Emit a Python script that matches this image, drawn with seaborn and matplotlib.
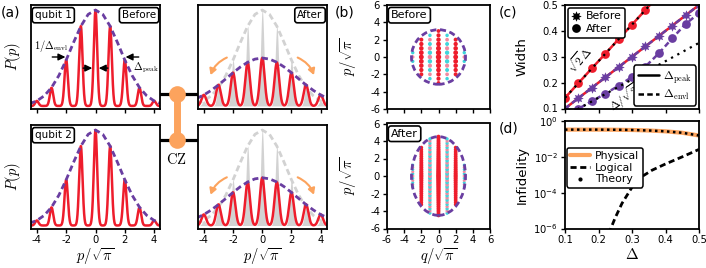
import numpy as np
import pandas as pd
import matplotlib
matplotlib.use("Agg")
import matplotlib.pyplot as plt
import seaborn as sns
from matplotlib.patches import Ellipse, FancyArrowPatch
from matplotlib.lines import Line2D
from matplotlib.path import Path
from matplotlib.ticker import NullLocator, NullFormatter

# ---------------- data ----------------
# (a) GKP comb in p
peak_pos = [-4, -3, -2, -1, 0, 1, 2, 3, 4]
before_heights = [0.05, 0.18, 0.455, 0.79, 0.95, 0.79, 0.455, 0.18, 0.05]
after_heights = [0.11, 0.21, 0.33, 0.43, 0.475, 0.43, 0.33, 0.21, 0.11]
before_peak_sigma = 0.115
after_peak_sigma = 0.16
env_p = [-4.5, -4.0, -3.5, -3.0, -2.5, -2.0, -1.5, -1.0, -0.5, 0.0,
         0.5, 1.0, 1.5, 2.0, 2.5, 3.0, 3.5, 4.0, 4.5]
before_env = [0.023, 0.050, 0.100, 0.182, 0.301, 0.455, 0.628, 0.790, 0.907, 0.95,
              0.907, 0.790, 0.628, 0.455, 0.301, 0.182, 0.100, 0.050, 0.023]
after_env = [0.074, 0.109, 0.154, 0.208, 0.268, 0.329, 0.386, 0.433, 0.464, 0.475,
             0.464, 0.433, 0.386, 0.329, 0.268, 0.208, 0.154, 0.109, 0.074]
p_ticks = [-4, -2, 0, 2, 4]

# (b) phase-space peaks
q_cols = [-3, -2, -1, 0, 1, 2, 3]
col_weight_before = [0.35, 0.8, 0.65, 1.0, 0.65, 0.8, 0.35]
col_weight_after = [0.35, 0.75, 0.6, 1.0, 0.6, 0.75, 0.35]
p_rows_before = [-3.0, -2.5, -2.0, -1.5, -1.0, -0.5, 0.0, 0.5, 1.0, 1.5, 2.0, 2.5, 3.0]
row_weight_before = [0.45, 0.55, 0.65, 0.75, 0.85, 0.95, 1.0, 0.95, 0.85, 0.75, 0.65, 0.55, 0.45]
p_rows_after = [-4.5, -4.25, -4.0, -3.75, -3.5, -3.25, -3.0, -2.75, -2.5, -2.25, -2.0, -1.75,
                -1.5, -1.25, -1.0, -0.75, -0.5, -0.25, 0.0, 0.25, 0.5, 0.75, 1.0, 1.25,
                1.5, 1.75, 2.0, 2.25, 2.5, 2.75, 3.0, 3.25, 3.5, 3.75, 4.0, 4.25, 4.5]
row_weight_after = [0.6, 0.62, 0.64, 0.66, 0.68, 0.7, 0.72, 0.74, 0.76, 0.78, 0.8, 0.82,
                    0.84, 0.86, 0.88, 0.9, 0.93, 0.96, 1.0, 0.96, 0.93, 0.9, 0.88, 0.86,
                    0.84, 0.82, 0.8, 0.78, 0.76, 0.74, 0.72, 0.7, 0.68, 0.66, 0.64, 0.62, 0.6]
ellipse_before = (3.15, 3.15)
ellipse_after = (3.15, 4.5)
b_ticks = [-6, -4, -2, 0, 2, 4, 6]

# (c) widths
delta_c = [0.10, 0.14, 0.18, 0.22, 0.26, 0.30, 0.34, 0.38, 0.42, 0.46, 0.50]
before_peak_w = [0.10, 0.14, 0.18, 0.22, 0.26, 0.30, 0.34, 0.38, 0.42, 0.46, 0.50]
before_envl_w = [0.10, 0.14, 0.18, 0.22, 0.26, 0.30, 0.34, 0.38, 0.42, 0.46, 0.50]
after_peak_w = [0.141, 0.198, 0.255, 0.311, 0.368, 0.424, 0.481, 0.537, 0.594, 0.651, 0.707]
after_envl_w = [0.071, 0.099, 0.128, 0.157, 0.188, 0.222, 0.262, 0.313, 0.371, 0.427, 0.468]
theory_delta = [0.10, 0.50]
theory_sqrt2 = [0.1414, 0.7071]
theory_inv_sqrt2 = [0.0707, 0.3536]
c_ticks = [0.1, 0.2, 0.3, 0.4, 0.5]

# (d) infidelity
delta_d = [0.10, 0.15, 0.20, 0.25, 0.30, 0.35, 0.40, 0.45, 0.50]
physical = [0.33, 0.33, 0.33, 0.325, 0.315, 0.295, 0.265, 0.22, 0.155]
theory_phys = [0.33, 0.33, 0.33, 0.325, 0.315, 0.295, 0.265, 0.22, 0.155]
delta_log = [0.23, 0.25, 0.27, 0.30, 0.33, 0.36, 0.40, 0.45, 0.50]
logical = [5e-7, 4e-6, 2.5e-5, 2e-4, 8e-4, 1.8e-3, 4e-3, 1.0e-2, 2.6e-2]
d_yticks = [1e-6, 1e-4, 1e-2, 1e0]

# ---------------- style ----------------
RED = "#ee1d2c"
PURPLE = "#6a3ea1"
CYAN = "#3fd6dc"
PINK = "#f08aa0"
ORANGE = "#fca35d"
GRAY = "#d2d2d2"

sns.set_theme(style="ticks")
plt.rcParams.update({
    "font.family": ["DejaVu Sans"],
    "mathtext.fontset": "cm",
    "axes.unicode_minus": False,
    "axes.linewidth": 1.3,
    "axes.edgecolor": "black",
    "axes.labelcolor": "black",
    "text.color": "black",
    "xtick.color": "black",
    "ytick.color": "black",
    "xtick.major.width": 1.0,
    "ytick.major.width": 1.0,
    "xtick.major.size": 3.0,
    "ytick.major.size": 3.0,
    "xtick.major.pad": 2.0,
    "ytick.major.pad": 2.0,
    "xtick.labelsize": 7.2,
    "ytick.labelsize": 7.2,
    "legend.fontsize": 7.5,
})

W, H = 706, 268
fig = plt.figure(figsize=(W / 100, H / 100), dpi=100)


def add(l, t, r, b):
    return fig.add_axes([l / W, 1 - b / H, (r - l) / W, (b - t) / H])


def fx(x):
    return x / W


def fy(y):
    return 1 - y / H


axA1 = add(31, 5, 160, 109)
axA2 = add(31, 125, 160, 228.5)
axA3 = add(198, 5, 326.5, 109)
axA4 = add(198, 125, 326.5, 228.5)
axB1 = add(387, 5, 490, 109)
axB2 = add(387, 123.5, 490, 228.5)
axC = add(565, 5, 699, 108.5)
axD = add(565, 121, 699, 228.5)


def comb(grid, centers, heights, sigma):
    g = np.asarray(grid)[:, None]
    c = np.asarray(centers, float)[None, :]
    h = np.asarray(heights, float)[None, :]
    return (h * np.exp(-(g - c) ** 2 / (2 * sigma ** 2))).sum(axis=1)


p_grid = np.linspace(-4.6, 4.6, 1601)
before_comb = comb(p_grid, peak_pos, before_heights, before_peak_sigma)
after_comb = comb(p_grid, peak_pos, after_heights, after_peak_sigma)

DASH = (0, (2.2, 1.3))
box = dict(boxstyle="round,pad=0.25", fc="white", ec="black", lw=1.2)


def line(ax, x, y, **kw):
    sns.lineplot(x=x, y=y, ax=ax, estimator=None, sort=False, **kw)


# ---------------- panel (a) ----------------
for ax in (axA1, axA2):
    line(ax, p_grid, before_comb, color=RED, lw=1.8)
    line(ax, env_p, before_env, color=PURPLE, lw=2.0, linestyle=DASH)

for ax in (axA3, axA4):
    ax.fill_between(p_grid, before_comb, 0, color=GRAY, lw=0, zorder=1)
    line(ax, env_p, before_env, color=GRAY, lw=2.0, linestyle=DASH)
    line(ax, p_grid, after_comb, color=RED, lw=1.8)
    line(ax, env_p, after_env, color=PURPLE, lw=2.0, linestyle=DASH)
    for (x0, y0), (x1, y1), rad in [((-2.25, 0.49), (-3.6, 0.28), 0.25),
                                    ((2.25, 0.49), (3.6, 0.28), -0.25)]:
        ax.add_patch(FancyArrowPatch((x0, y0), (x1, y1),
                                     connectionstyle=f"arc3,rad={rad}",
                                     arrowstyle="-|>,head_length=3.5,head_width=2",
                                     color=ORANGE, lw=1.5, zorder=5))

for ax in (axA1, axA2, axA3, axA4):
    ax.set_xlim(-4.4, 4.4)
    ax.set_ylim(-0.03, 1.0)
    ax.set_xticks(p_ticks)
    ax.yaxis.set_major_locator(NullLocator())
    ax.set_xlabel("")
    ax.set_ylabel("")
for ax in (axA1, axA3):
    ax.set_xticklabels([])
for ax in (axA2, axA4):
    ax.set_xticklabels([str(t) for t in p_ticks])
    ax.set_xlabel(r"$p/\sqrt{\pi}$", fontsize=10.5)
    ax.xaxis.set_label_coords(0.5, -0.17)
for ax in (axA1, axA2):
    ax.set_ylabel(r"$P(p)$", fontsize=10.5)
    ax.yaxis.set_label_coords(-0.06, 0.5)

axA1.text(0.03, 0.95, "qubit 1", transform=axA1.transAxes, ha="left", va="top", fontsize=7.5, bbox=box)
axA1.text(0.97, 0.95, "Before", transform=axA1.transAxes, ha="right", va="top", fontsize=7.5, bbox=box)
axA2.text(0.03, 0.95, "qubit 2", transform=axA2.transAxes, ha="left", va="top", fontsize=7.5, bbox=box)
axA3.text(0.97, 0.95, "After", transform=axA3.transAxes, ha="right", va="top", fontsize=7.5, bbox=box)

arr = dict(arrowstyle="-|>,head_length=0.35,head_width=0.17", color="black", lw=1.0,
           shrinkA=0, shrinkB=0)
axA1.annotate("", xy=(-2.05, 0.485), xytext=(-2.95, 0.485), arrowprops=arr)
axA1.annotate("", xy=(2.05, 0.485), xytext=(2.95, 0.485), arrowprops=arr)
axA1.annotate("", xy=(-0.22, 0.375), xytext=(-0.85, 0.375), arrowprops=arr)
axA1.annotate("", xy=(0.22, 0.375), xytext=(0.85, 0.375), arrowprops=arr)
axA1.text(-4.22, 0.59, r"$1/\Delta_{\mathrm{envl}}$", ha="left", va="center", fontsize=7.5)
axA1.text(3.45, 0.375, r"$\Delta_{\mathrm{peak}}$", ha="center", va="center", fontsize=7.5)

# CZ gate decoration
for yy in (93.5, 140):
    fig.add_artist(Line2D([fx(160), fx(198)], [fy(yy), fy(yy)], color="black", lw=2.3, zorder=0))
fig.add_artist(Line2D([fx(176.7), fx(176.7)], [fy(93.5), fy(140)], color=ORANGE, lw=5, zorder=1))
fig.add_artist(Line2D([fx(176.7), fx(176.7)], [fy(93.5), fy(140)], color=ORANGE, lw=0,
                      marker="o", markersize=12, markeredgewidth=0, zorder=2))
fig.text(fx(176.7), fy(160), r"$\mathrm{CZ}$", ha="center", va="center", fontsize=10.5)

# ---------------- panel (b) ----------------
def dots(ax, rows, row_w, col_w, radii, smax):
    recs = []
    rx, ry = radii
    for qi, q in enumerate(q_cols):
        for pi, p in enumerate(rows):
            if (q / rx) ** 2 + (p / ry) ** 2 > 1.0:
                continue
            if q % 2 == 0:
                kind = "pos"
            else:
                kind = "neg" if pi % 2 == 1 else "mix"
            recs.append(dict(q=q, p=p, w=col_w[qi] * row_w[pi], kind=kind))
    df = pd.DataFrame(recs)
    sns.scatterplot(data=df, x="q", y="p", hue="kind", size="w",
                    palette={"pos": RED, "neg": CYAN, "mix": PINK},
                    sizes=(1.5, smax), size_norm=(0, 1), linewidth=0,
                    legend=False, ax=ax, zorder=3)
    ax.add_patch(Ellipse((0, 0), 2 * rx, 2 * ry, fill=False, ec=PURPLE, lw=2.0,
                         linestyle=DASH, zorder=4))


dots(axB1, p_rows_before, row_weight_before, col_weight_before, ellipse_before, 15)
dots(axB2, p_rows_after, row_weight_after, col_weight_after, ellipse_after, 12)
for ax, lab in ((axB1, "Before"), (axB2, "After")):
    ax.set_xlim(-6, 6)
    ax.set_ylim(-6, 6)
    ax.set_xticks(b_ticks)
    ax.set_yticks(b_ticks)
    ax.set_yticklabels([str(t) for t in b_ticks])
    ax.set_xlabel("")
    ax.set_ylabel(r"$p/\sqrt{\pi}$", fontsize=10.5)
    ax.yaxis.set_label_coords(-0.27, 0.5)
    ax.text(0.04, 0.95, lab, transform=ax.transAxes, ha="left", va="top", fontsize=8, bbox=box)
axB1.set_xticklabels([])
axB2.set_xticklabels([str(t) for t in b_ticks])
axB2.set_xlabel(r"$q/\sqrt{\pi}$", fontsize=10.5)
axB2.xaxis.set_label_coords(0.5, -0.17)

# ---------------- panel (c) ----------------
star = Path([(np.cos(a) * r, np.sin(a) * r) for a, r in
             zip(np.linspace(np.pi / 2, np.pi / 2 + 2 * np.pi, 17)[:-1],
                 [1.0, 0.55] * 8)] + [(0.0, 1.0)],
            closed=True)
MS = 6.3
line(axC, delta_c, before_peak_w, color=RED, lw=1.8)
line(axC, delta_c, before_envl_w, color=PURPLE, lw=1.8, linestyle=DASH,
     marker=star, markersize=MS + 1.2, markeredgewidth=0, markerfacecolor=PURPLE)
line(axC, delta_c, after_peak_w, color=RED, lw=1.8,
     marker="o", markersize=MS, markeredgewidth=0, markerfacecolor=RED)
line(axC, delta_c, after_envl_w, color=PURPLE, lw=1.8, linestyle=DASH,
     marker="o", markersize=MS, markeredgewidth=0, markerfacecolor=PURPLE)
line(axC, theory_delta, theory_sqrt2, color="black", lw=1.6, linestyle=(0, (1, 2.2)))
line(axC, theory_delta, theory_inv_sqrt2, color="black", lw=1.6, linestyle=(0, (1, 2.2)))
axC.set_xlim(0.1, 0.5)
axC.set_ylim(0.1, 0.5)
axC.set_xticks(c_ticks)
axC.set_xticklabels([])
axC.set_yticks(c_ticks)
axC.set_yticklabels(["0.1", "0.2", "0.3", "0.4", "0.5"])
axC.set_xlabel("")
axC.set_ylabel("Width", fontsize=9.5)
axC.yaxis.set_label_coords(-0.27, 0.5)
axC.text(0.145, 0.288, r"$\sqrt{2}\Delta$", rotation=50, ha="center", va="center", fontsize=8.5)
axC.text(0.279, 0.14, r"$\Delta/\sqrt{2}$", rotation=35, ha="center", va="center", fontsize=8.5)

h1 = [Line2D([], [], color="black", ls="none", marker=star, markersize=MS + 1.2, mew=0),
      Line2D([], [], color="black", ls="none", marker="o", markersize=MS, mew=0)]
leg1 = axC.legend(h1, ["Before", "After"], loc="upper left", frameon=True, fancybox=True,
                  handlelength=0.9, handletextpad=0.4, borderpad=0.35, labelspacing=0.25,
                  borderaxespad=0.25, fontsize=7.8)
leg1.get_frame().set_edgecolor("black")
leg1.get_frame().set_linewidth(1.1)
leg1.get_frame().set_alpha(1)
axC.add_artist(leg1)
h2 = [Line2D([], [], color="black", lw=1.8),
      Line2D([], [], color="black", lw=1.8, linestyle=DASH)]
leg2 = axC.legend(h2, [r"$\Delta_{\mathrm{peak}}$", r"$\Delta_{\mathrm{envl}}$"], loc="lower right",
                  frameon=True, fancybox=True, handlelength=1.8, handletextpad=0.4,
                  borderpad=0.3, labelspacing=0.2, borderaxespad=0.25, fontsize=8.5)
leg2.get_frame().set_edgecolor("black")
leg2.get_frame().set_linewidth(1.1)
leg2.get_frame().set_alpha(1)

# ---------------- panel (d) ----------------
line(axD, delta_d, physical, color=ORANGE, lw=3.0)
line(axD, delta_d, theory_phys, color="black", lw=1.8, linestyle=(0, (1, 1.4)))
line(axD, delta_log, logical, color="black", lw=2.0, linestyle=DASH)
axD.set_yscale("log")
axD.set_xlim(0.1, 0.5)
axD.set_ylim(1e-6, 1.0)
axD.set_yticks(d_yticks)
axD.yaxis.set_minor_locator(NullLocator())
axD.yaxis.set_minor_formatter(NullFormatter())
axD.set_xticks(c_ticks)
axD.set_xticklabels(["0.1", "0.2", "0.3", "0.4", "0.5"])
axD.set_xlabel(r"$\Delta$", fontsize=11)
axD.xaxis.set_label_coords(0.5, -0.17)
axD.set_ylabel("Infidelity", fontsize=9.5)
axD.yaxis.set_label_coords(-0.27, 0.5)
h3 = [Line2D([], [], color=ORANGE, lw=3.0),
      Line2D([], [], color="black", lw=2.0, linestyle=DASH),
      Line2D([], [], color="black", ls="none", marker=".", markersize=4)]
leg3 = axD.legend(h3, ["Physical", "Logical", "Theory"], loc="upper left",
                  bbox_to_anchor=(0.0, 0.77), frameon=True, fancybox=True,
                  handlelength=1.8, handletextpad=0.5, borderpad=0.3, labelspacing=0.15,
                  borderaxespad=0.2, fontsize=7.8)
leg3.get_frame().set_edgecolor("black")
leg3.get_frame().set_linewidth(1.1)
leg3.get_frame().set_alpha(1)

# panel labels
fig.text(fx(1), fy(12), "(a)", ha="left", va="center", fontsize=10)
fig.text(fx(335), fy(13), "(b)", ha="left", va="center", fontsize=10)
fig.text(fx(499), fy(13), "(c)", ha="left", va="center", fontsize=10)
fig.text(fx(499), fy(129), "(d)", ha="left", va="center", fontsize=10)

fig.savefig("out.png", dpi=100)
